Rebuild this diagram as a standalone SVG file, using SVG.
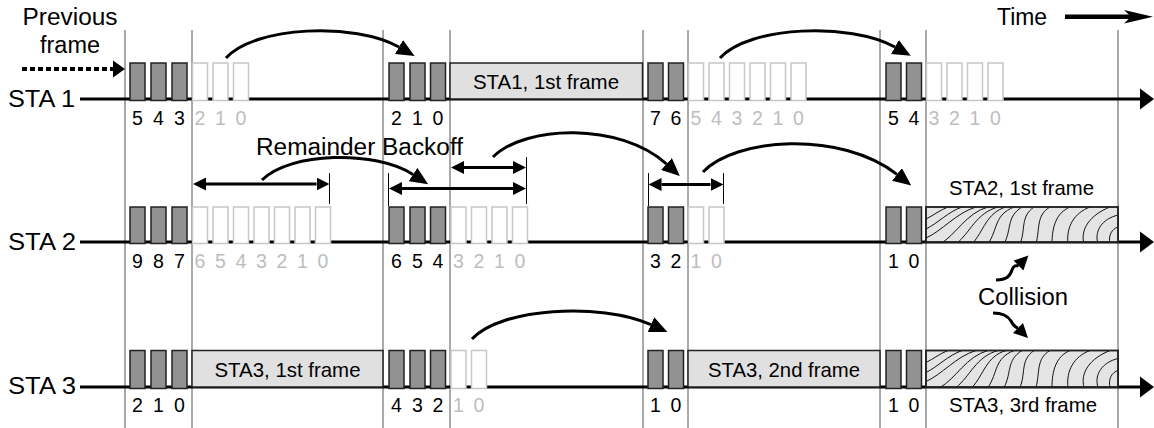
<svg xmlns="http://www.w3.org/2000/svg" xmlns:xlink="http://www.w3.org/1999/xlink" width="1154" height="428" viewBox="0 0 1154 428">
<style>
.vl{stroke:#555;stroke-width:1}
.base{stroke:#000;stroke-width:3}
.s{fill:#929292;stroke:#222;stroke-width:1.5}
.w{fill:#fff;stroke:#c6c6c6;stroke-width:1.5}
.fr{fill:#e0e0e0;stroke:#222;stroke-width:1.5}
.hb{fill:#e4e4e4;stroke:#222;stroke-width:1.5}
.t{font-family:"Liberation Sans",Arial,sans-serif;fill:#000}
.lbl{font-size:23.5px}
.fl{font-size:21px;text-anchor:middle}
.d{font-family:"Liberation Sans",Arial,sans-serif;font-size:19.5px;text-anchor:middle;fill:#000}
.g{fill:#bdbdbd}
.cv{fill:none;stroke:#000;stroke-width:3}
.da{fill:none;stroke:#000;stroke-width:3}
.tk{stroke:#000;stroke-width:1}
.gr{fill:none;stroke:#111;stroke-width:1}
</style>
<defs>
<marker id="ah" viewBox="0 0 18 16" refX="0" refY="8" markerWidth="18" markerHeight="16" markerUnits="userSpaceOnUse" orient="auto"><path d="M0,0 L18,8 L0,16 Z" fill="#000"/></marker>
<marker id="dh" viewBox="0 0 13 13" refX="0" refY="6.5" markerWidth="13" markerHeight="13" markerUnits="userSpaceOnUse" orient="auto-start-reverse"><path d="M0,0 L13,6.5 L0,13 Z" fill="#000"/></marker>
<clipPath id="c2"><rect x="926" y="207" width="192" height="35"/></clipPath>
<clipPath id="c3"><rect x="926" y="350.5" width="192" height="36.5"/></clipPath>
<g id="grain" class="gr">
<path d="M0,12 C8,8 14,3 22,0"/>
<path d="M0,22 C12,16 22,5 36,0"/>
<path d="M0,31 C16,24 30,6 50,0"/>
<path d="M14,37 C30,28 40,6 62,0"/>
<path d="M30,37 C44,26 50,6 72,0"/>
<path d="M46,37 C58,24 60,6 80,0"/>
<path d="M62,37 C72,22 68,8 88,0"/>
<path d="M78,37 C86,22 80,10 96,0"/>
<path d="M94,37 C100,22 94,10 108,0"/>
<path d="M110,37 C114,22 110,8 124,0"/>
<path d="M126,37 C126,20 130,6 144,0"/>
<path d="M142,37 C140,20 148,6 164,0"/>
<path d="M158,37 C154,22 164,8 184,0"/>
<path d="M172,37 C168,24 176,12 192,8"/>
<path d="M184,37 C182,28 186,22 192,20"/>
</g>
</defs>
<rect width="1154" height="428" fill="#fff"/>

<g id="grid">
<line class="vl" x1="125" y1="30" x2="125" y2="428"/>
<line class="vl" x1="192" y1="30" x2="192" y2="428"/>
<line class="vl" x1="383" y1="30" x2="383" y2="428"/>
<line class="vl" x1="450" y1="30" x2="450" y2="428"/>
<line class="vl" x1="643" y1="30" x2="643" y2="428"/>
<line class="vl" x1="688" y1="30" x2="688" y2="428"/>
<line class="vl" x1="880" y1="30" x2="880" y2="428"/>
<line class="vl" x1="926" y1="30" x2="926" y2="428"/>
<line class="vl" x1="1118" y1="30" x2="1118" y2="428"/>
</g>

<g id="timelines">
<line class="base" x1="80" y1="99" x2="1142" y2="99"/>
<polygon points="1140,88.5 1154,99 1140,109.5"/>
<line class="base" x1="80" y1="242" x2="1142" y2="242"/>
<polygon points="1140,231.5 1154,242 1140,252.5"/>
<line class="base" x1="80" y1="387" x2="1142" y2="387"/>
<polygon points="1140,376.5 1154,387 1140,397.5"/>
</g>

<g id="labels">
<text class="t lbl" x="70" y="25" text-anchor="middle" textLength="95" lengthAdjust="spacingAndGlyphs">Previous</text>
<text class="t lbl" x="70" y="53" text-anchor="middle" textLength="60" lengthAdjust="spacingAndGlyphs">frame</text>
<text class="t lbl" x="8" y="106.5" textLength="67" lengthAdjust="spacingAndGlyphs">STA 1</text>
<text class="t lbl" x="8" y="250" textLength="68" lengthAdjust="spacingAndGlyphs">STA 2</text>
<text class="t lbl" x="8" y="394" textLength="68" lengthAdjust="spacingAndGlyphs">STA 3</text>
<text class="t lbl" x="997" y="25" textLength="50" lengthAdjust="spacingAndGlyphs">Time</text>
<text class="t lbl" x="256" y="155" textLength="207" lengthAdjust="spacingAndGlyphs">Remainder Backoff</text>
<text class="t lbl" x="1023" y="305" text-anchor="middle" textLength="90" lengthAdjust="spacingAndGlyphs">Collision</text>
</g>

<g id="sta1">
<g id="sta1-slots">
<rect class="s" x="130" y="63" width="15" height="37.5"/>
<rect class="s" x="151" y="63" width="15" height="37.5"/>
<rect class="s" x="172" y="63" width="15" height="37.5"/>
<rect class="w" x="192.5" y="63" width="15" height="37.5"/>
<rect class="w" x="213" y="63" width="15" height="37.5"/>
<rect class="w" x="233.5" y="63" width="15" height="37.5"/>
<rect class="s" x="389" y="63" width="15" height="37.5"/>
<rect class="s" x="410" y="63" width="15" height="37.5"/>
<rect class="s" x="430.5" y="63" width="15" height="37.5"/>
<rect class="s" x="648" y="63" width="15" height="37.5"/>
<rect class="s" x="668.5" y="63" width="15" height="37.5"/>
<rect class="w" x="688.5" y="63" width="15" height="37.5"/>
<rect class="w" x="709" y="63" width="15" height="37.5"/>
<rect class="w" x="729.5" y="63" width="15" height="37.5"/>
<rect class="w" x="750" y="63" width="15" height="37.5"/>
<rect class="w" x="770.5" y="63" width="15" height="37.5"/>
<rect class="w" x="791" y="63" width="15" height="37.5"/>
<rect class="s" x="886" y="63" width="15" height="37.5"/>
<rect class="s" x="906.5" y="63" width="15" height="37.5"/>
<rect class="w" x="926.5" y="63" width="15" height="37.5"/>
<rect class="w" x="947" y="63" width="15" height="37.5"/>
<rect class="w" x="967.5" y="63" width="15" height="37.5"/>
<rect class="w" x="988" y="63" width="15" height="37.5"/>
</g>
<g id="sta1-frame1">
<rect class="fr" x="450" y="63" width="192.5" height="36"/>
<text class="t fl" x="546" y="89" textLength="146" lengthAdjust="spacingAndGlyphs">STA1, 1st frame</text>
</g>
<g id="sta1-digits">
<text class="d" x="137.5" y="125">5</text><text class="d" x="158.5" y="125">4</text><text class="d" x="179.5" y="125">3</text>
<text class="d g" x="200" y="125">2</text><text class="d g" x="220.5" y="125">1</text><text class="d g" x="241" y="125">0</text>
<text class="d" x="396.5" y="125">2</text><text class="d" x="417.5" y="125">1</text><text class="d" x="438" y="125">0</text>
<text class="d" x="655.5" y="125">7</text><text class="d" x="676" y="125">6</text>
<text class="d g" x="696" y="125">5</text><text class="d g" x="716.5" y="125">4</text><text class="d g" x="737" y="125">3</text><text class="d g" x="757.5" y="125">2</text><text class="d g" x="778" y="125">1</text><text class="d g" x="798.5" y="125">0</text>
<text class="d" x="893.5" y="125">5</text><text class="d" x="914" y="125">4</text>
<text class="d g" x="934" y="125">3</text><text class="d g" x="954.5" y="125">2</text><text class="d g" x="975" y="125">1</text><text class="d g" x="995.5" y="125">0</text>
</g>
</g>

<g id="sta2">
<g id="sta2-slots">
<rect class="s" x="130" y="207" width="15" height="36.5"/>
<rect class="s" x="151" y="207" width="15" height="36.5"/>
<rect class="s" x="172" y="207" width="15" height="36.5"/>
<rect class="w" x="192.5" y="207" width="15" height="36.5"/>
<rect class="w" x="213" y="207" width="15" height="36.5"/>
<rect class="w" x="233.5" y="207" width="15" height="36.5"/>
<rect class="w" x="254" y="207" width="15" height="36.5"/>
<rect class="w" x="274.5" y="207" width="15" height="36.5"/>
<rect class="w" x="295" y="207" width="15" height="36.5"/>
<rect class="w" x="315.5" y="207" width="15" height="36.5"/>
<rect class="s" x="389" y="207" width="15" height="36.5"/>
<rect class="s" x="410" y="207" width="15" height="36.5"/>
<rect class="s" x="430.5" y="207" width="15" height="36.5"/>
<rect class="w" x="451" y="207" width="15" height="36.5"/>
<rect class="w" x="471.5" y="207" width="15" height="36.5"/>
<rect class="w" x="492" y="207" width="15" height="36.5"/>
<rect class="w" x="512.5" y="207" width="15" height="36.5"/>
<rect class="s" x="648" y="207" width="15" height="36.5"/>
<rect class="s" x="668.5" y="207" width="15" height="36.5"/>
<rect class="w" x="688.5" y="207" width="15" height="36.5"/>
<rect class="w" x="709" y="207" width="15" height="36.5"/>
<rect class="s" x="886" y="207" width="15" height="36.5"/>
<rect class="s" x="906.5" y="207" width="15" height="36.5"/>
</g>
<g id="sta2-frame1">
<rect class="hb" x="926" y="207" width="192" height="35"/>
<g clip-path="url(#c2)"><use xlink:href="#grain" href="#grain" transform="translate(926,207)"/></g>
<rect x="926" y="207" width="192" height="35" fill="none" stroke="#222" stroke-width="1.5"/>
<text class="t fl" x="1021.5" y="195" textLength="145" lengthAdjust="spacingAndGlyphs">STA2, 1st frame</text>
</g>
<g id="sta2-digits">
<text class="d" x="137.5" y="268">9</text><text class="d" x="158.5" y="268">8</text><text class="d" x="179.5" y="268">7</text>
<text class="d g" x="200" y="268">6</text><text class="d g" x="220.5" y="268">5</text><text class="d g" x="241" y="268">4</text><text class="d g" x="261.5" y="268">3</text><text class="d g" x="282" y="268">2</text><text class="d g" x="302.5" y="268">1</text><text class="d g" x="323" y="268">0</text>
<text class="d" x="396.5" y="268">6</text><text class="d" x="417.5" y="268">5</text><text class="d" x="438" y="268">4</text>
<text class="d g" x="458.5" y="268">3</text><text class="d g" x="479" y="268">2</text><text class="d g" x="499.5" y="268">1</text><text class="d g" x="520" y="268">0</text>
<text class="d" x="655.5" y="268">3</text><text class="d" x="676" y="268">2</text>
<text class="d g" x="696" y="268">1</text><text class="d g" x="716.5" y="268">0</text>
<text class="d" x="893.5" y="268">1</text><text class="d" x="914" y="268">0</text>
</g>
</g>

<g id="sta3">
<g id="sta3-slots">
<rect class="s" x="130" y="350.5" width="15" height="38"/>
<rect class="s" x="151" y="350.5" width="15" height="38"/>
<rect class="s" x="172" y="350.5" width="15" height="38"/>
<rect class="s" x="389" y="350.5" width="15" height="38"/>
<rect class="s" x="410" y="350.5" width="15" height="38"/>
<rect class="s" x="430.5" y="350.5" width="15" height="38"/>
<rect class="w" x="451" y="350.5" width="15" height="38"/>
<rect class="w" x="471.5" y="350.5" width="15" height="38"/>
<rect class="s" x="648" y="350.5" width="15" height="38"/>
<rect class="s" x="668.5" y="350.5" width="15" height="38"/>
<rect class="s" x="886" y="350.5" width="15" height="38"/>
<rect class="s" x="906.5" y="350.5" width="15" height="38"/>
</g>
<g id="sta3-frame1">
<rect class="fr" x="192" y="350.5" width="191" height="36.5"/>
<text class="t fl" x="287.5" y="377" textLength="146" lengthAdjust="spacingAndGlyphs">STA3, 1st frame</text>
</g>
<g id="sta3-frame2">
<rect class="fr" x="688" y="350.5" width="192" height="36.5"/>
<text class="t fl" x="784" y="377" textLength="152" lengthAdjust="spacingAndGlyphs">STA3, 2nd frame</text>
</g>
<g id="sta3-frame3">
<rect class="hb" x="926" y="350.5" width="192" height="36.5"/>
<g clip-path="url(#c3)"><use xlink:href="#grain" href="#grain" transform="translate(926,350.5)"/></g>
<rect x="926" y="350.5" width="192" height="36.5" fill="none" stroke="#222" stroke-width="1.5"/>
<text class="t fl" x="1023" y="412" textLength="148" lengthAdjust="spacingAndGlyphs">STA3, 3rd frame</text>
</g>
<g id="sta3-digits">
<text class="d" x="137.5" y="411.5">2</text><text class="d" x="158.5" y="411.5">1</text><text class="d" x="179.5" y="411.5">0</text>
<text class="d" x="396.5" y="411.5">4</text><text class="d" x="417.5" y="411.5">3</text><text class="d" x="438" y="411.5">2</text>
<text class="d g" x="458.5" y="411.5">1</text><text class="d g" x="479" y="411.5">0</text>
<text class="d" x="655.5" y="411.5">1</text><text class="d" x="676" y="411.5">0</text>
<text class="d" x="893.5" y="411.5">1</text><text class="d" x="914" y="411.5">0</text>
</g>
</g>

<g id="connectors">
<line x1="22" y1="69" x2="114" y2="69" stroke="#000" stroke-width="4" stroke-dasharray="5,3"/>
<polygon points="113,60.5 125,69 113,77.5"/>
<line x1="1065" y1="16.7" x2="1134" y2="16.7" stroke="#000" stroke-width="4.5"/>
<polygon points="1124,10 1153,16.7 1124,23.4 1131,16.7"/>
<path class="cv" d="M226,58 C255,26 355,22 399,47" marker-end="url(#ah)"/>
<path class="cv" d="M720,58 C749,26 850,22 895,47" marker-end="url(#ah)"/>
<path class="cv" d="M262,180 C290,152 375,150 413,174.5" marker-end="url(#ah)"/>
<path class="cv" d="M493,157 C525,125 620,122 666.5,164" marker-end="url(#ah)"/>
<path class="cv" d="M703,172 C735,138 840,130 897,174.4" marker-end="url(#ah)"/>
<path class="cv" d="M472,339 C500,308 600,302 651,324.6" marker-end="url(#ah)"/>
<line class="da" x1="206" y1="184" x2="316.5" y2="184" marker-start="url(#dh)" marker-end="url(#dh)"/>
<line class="tk" x1="329.5" y1="173" x2="329.5" y2="204"/>
<line class="da" x1="402" y1="188.5" x2="513" y2="188.5" marker-start="url(#dh)" marker-end="url(#dh)"/>
<line class="tk" x1="388.5" y1="173" x2="388.5" y2="206"/>
<line class="tk" x1="526.5" y1="157" x2="526.5" y2="204"/>
<line class="da" x1="464" y1="167.5" x2="513" y2="167.5" marker-start="url(#dh)" marker-end="url(#dh)"/>
<line class="da" x1="661.5" y1="184.5" x2="710.5" y2="184.5" marker-start="url(#dh)" marker-end="url(#dh)"/>
<line class="tk" x1="648.5" y1="173" x2="648.5" y2="206"/>
<line class="tk" x1="723.5" y1="173" x2="723.5" y2="204"/>
<path class="cv" d="M996,280 C1007,280 1010,276 1012,270 C1014,265 1015,266 1018.5,265.5"/>
<polygon points="1028.4,255.6 1023.4,270.4 1013.6,260.6"/>
<path class="cv" d="M993,313 C1003,313 1008,316 1011,321 C1013,325 1015,327 1018,328"/>
<polygon points="1028,338 1013,333 1023,323"/>
</g>
</svg>
